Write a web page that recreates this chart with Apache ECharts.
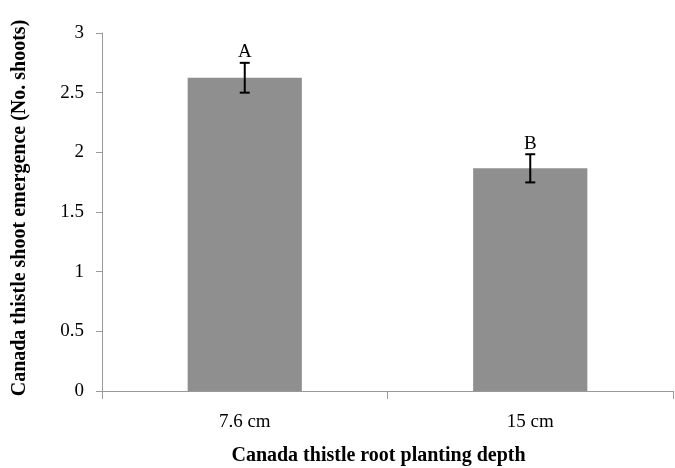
<!DOCTYPE html>
<html>
<head>
<meta charset="utf-8">
<script src="https://cdn.jsdelivr.net/npm/echarts@6/dist/echarts.min.js"></script>
<style>
  html, body { margin: 0; padding: 0; background: #fff; }
  #chart { width: 675px; height: 468px; }
</style>
</head>
<body>
<div id="chart"></div>
<script>
const depths = ['7.6 cm', '15 cm'];
const shoots = [2.625, 1.866];
const stdErr = [0.125, 0.118];
const letters = ['A', 'B'];

const chart = echarts.init(document.getElementById('chart'));
const serif = '"Liberation Serif", "Times New Roman", serif';

const errData = depths.map((d, i) => [i, shoots[i] - stdErr[i], shoots[i] + stdErr[i], letters[i]]);

const option = {
  animation: false,
  grid: { left: 102, right: 2, top: 33, bottom: 77, containLabel: false, outerBoundsMode: 'none' },
  xAxis: {
    type: 'category',
    data: depths,
    name: 'Canada thistle root planting depth',
    nameLocation: 'middle',
    nameGap: 55,
    nameTextStyle: {
      fontFamily: serif, fontWeight: 'bold', fontSize: 20, color: '#000',
      verticalAlign: 'top', padding: [0, 18, 0, 0]
    },
    axisLine: { lineStyle: { color: '#999', width: 1 } },
    axisTick: { show: true, length: 8, lineStyle: { color: '#999' } },
    axisLabel: { fontFamily: serif, fontSize: 19, color: '#000', margin: 22 }
  },
  yAxis: {
    type: 'value',
    min: 0,
    max: 3,
    interval: 0.5,
    name: 'Canada thistle shoot emergence (No. shoots)',
    nameLocation: 'middle',
    nameGap: 72,
    nameTextStyle: { fontFamily: serif, fontWeight: 'bold', fontSize: 20, color: '#000', padding: [0, 0, 0, 8] },
    axisLine: { show: true, lineStyle: { color: '#999', width: 1 } },
    axisTick: { show: true, length: 6, lineStyle: { color: '#999' } },
    splitLine: { show: false },
    axisLabel: { fontFamily: serif, fontSize: 19, color: '#000', margin: 18 }
  },
  series: [
    {
      type: 'bar',
      data: shoots,
      barWidth: '40%',
      itemStyle: { color: '#8f8f8f' }
    },
    {
      type: 'custom',
      data: errData,
      z: 5,
      renderItem: function (params, api) {
        const lo = api.coord([api.value(0), api.value(1)]);
        const hi = api.coord([api.value(0), api.value(2)]);
        const cap = 5;
        const style = { stroke: '#000', lineWidth: 2 };
        return {
          type: 'group',
          children: [
            { type: 'line', shape: { x1: hi[0], y1: hi[1], x2: lo[0], y2: lo[1] }, style: style },
            { type: 'line', shape: { x1: hi[0] - cap, y1: hi[1], x2: hi[0] + cap, y2: hi[1] }, style: style },
            { type: 'line', shape: { x1: lo[0] - cap, y1: lo[1], x2: lo[0] + cap, y2: lo[1] }, style: style },
            {
              type: 'text',
              style: {
                text: errData[params.dataIndex][3],
                x: hi[0],
                y: hi[1] - 1,
                align: 'center',
                verticalAlign: 'bottom',
                fontFamily: serif,
                fontSize: 19,
                fill: '#000'
              }
            }
          ]
        };
      }
    }
  ]
};

chart.setOption(option);
</script>
</body>
</html>
